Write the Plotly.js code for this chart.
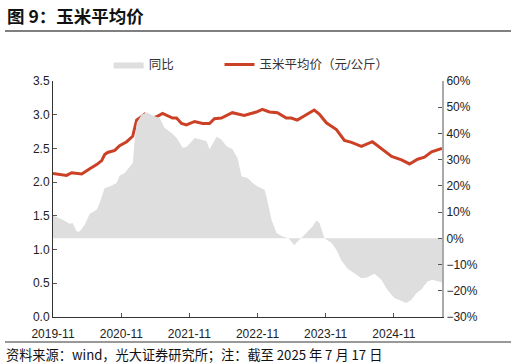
<!DOCTYPE html>
<html><head><meta charset="utf-8">
<script src="https://cdn.plot.ly/plotly-3.0.1.min.js"></script>
<style>html,body{margin:0;padding:0;background:#fff;}#chart{width:516px;height:364px;}</style>
</head><body><div id="chart"></div>
<script>
const priceDates = ['2019-11-01','2019-12-24','2020-01-13','2020-02-09','2020-04-03','2020-05-16','2020-06-22','2020-07-19','2020-08-04','2020-08-20','2020-09-27','2020-10-23','2020-11-30','2021-01-01','2021-01-22','2021-02-07','2021-03-06','2021-04-12','2021-05-09','2021-06-10','2021-08-03','2021-08-24','2021-09-20','2021-10-16','2021-11-29','2022-01-11','2022-02-17','2022-03-15','2022-04-22','2022-06-19','2022-08-22','2022-09-18','2022-10-26','2022-11-27','2023-01-04','2023-02-16','2023-04-04','2023-05-01','2023-06-02','2023-07-09','2023-09-01','2023-09-28','2023-11-05','2023-12-29','2024-02-10','2024-03-19','2024-05-11','2024-07-09','2024-09-01','2024-10-20','2024-12-12','2025-01-24','2025-03-08','2025-04-14','2025-05-22','2025-07-17'];
const priceValues = [2.13,2.10,2.10,2.14,2.12,2.20,2.26,2.32,2.41,2.44,2.47,2.54,2.60,2.68,2.92,2.95,3.01,2.95,2.97,3.02,2.95,2.95,2.87,2.85,2.90,2.87,2.87,2.94,2.95,3.03,2.99,3.01,3.04,3.08,3.04,3.03,2.95,2.95,2.92,2.98,3.07,3.01,2.88,2.78,2.62,2.59,2.53,2.60,2.48,2.38,2.33,2.27,2.34,2.37,2.45,2.50];
const yoyDates = ['2019-11-01','2019-12-23','2020-01-29','2020-02-14','2020-03-07','2020-03-23','2020-04-19','2020-05-16','2020-06-22','2020-07-08','2020-08-04','2020-08-31','2020-10-07','2020-10-23','2020-11-19','2020-12-16','2021-01-02','2021-01-12','2021-01-23','2021-02-18','2021-03-17','2021-04-18','2021-05-26','2021-06-21','2021-07-29','2021-08-25','2021-09-26','2021-10-17','2021-11-29','2022-01-06','2022-02-01','2022-02-17','2022-03-27','2022-04-23','2022-05-19','2022-06-20','2022-07-17','2022-08-08','2022-09-09','2022-10-06','2022-11-01','2022-12-09','2022-12-25','2023-01-15','2023-02-11','2023-03-15','2023-04-16','2023-05-18','2023-06-03','2023-06-30','2023-07-27','2023-08-23','2023-09-13','2023-09-29','2023-10-26','2023-12-03','2023-12-29','2024-01-25','2024-02-26','2024-04-04','2024-05-11','2024-06-12','2024-07-20','2024-08-26','2024-09-27','2024-11-04','2024-12-11','2025-01-07','2025-02-03','2025-03-02','2025-03-29','2025-04-30','2025-05-27','2025-07-03','2025-07-17'];
const yoyValues = [8.7,7.1,5.6,5.8,2.6,2.6,5.2,9.4,10.9,13.5,19.2,19.8,21.1,23.9,24.9,27.4,28.7,37.6,44.0,47.2,48.0,46.8,45.9,42.1,40.2,38.3,34.5,34.8,38.3,37.6,37.0,34.0,38.7,37.6,35.1,34.1,30.6,23.6,23.0,21.1,19.8,18.5,14.1,7.1,2.0,0.7,0.0,-2.6,-1.2,0.5,2.6,4.5,6.8,5.8,0.0,-1.8,-4.4,-8.5,-11.5,-13.3,-15.2,-14.8,-13.5,-15.8,-19.6,-22.8,-23.8,-24.7,-23.4,-20.9,-19.4,-16.5,-15.8,-16.5,-16.8].map(v => v / 100);
const xTickVals = ['2019-11-01','2020-11-01','2021-11-01','2022-11-01','2023-11-01','2024-11-01'];
const xTickText = ['2019-11','2020-11','2021-11','2022-11','2023-11','2024-11'];
const seriesNames = ['同比','玉米平均价（元/公斤）'];

const cjk = '"Liberation Sans", Arial, "Noto Sans CJK SC", sans-serif';

const traces = [
  {x: yoyDates, y: yoyValues, name: seriesNames[0], type: 'scatter', mode: 'lines', yaxis: 'y2',
   fill: 'tozeroy', fillcolor: '#dedede', line: {width: 0, color: '#dedede'}, legend: 'legend'},
  {x: priceDates, y: priceValues, name: seriesNames[1], type: 'scatter', mode: 'lines', yaxis: 'y',
   line: {width: 3, color: '#cc4125'}, legend: 'legend2'}
];

const legendBase = {orientation: 'h', xanchor: 'left', y: 1.005, yanchor: 'bottom',
           font: {size: 12.5, color: '#333'}, itemwidth: 30, bgcolor: 'rgba(0,0,0,0)'};

const layout = {
  width: 516, height: 364,
  margin: {l: 53, r: 74, t: 81, b: 47},
  paper_bgcolor: '#fff', plot_bgcolor: '#fff',
  font: {family: cjk, size: 12, color: '#222'},
  showlegend: true,
  legend: Object.assign({}, legendBase, {x: 0.143}),
  legend2: Object.assign({}, legendBase, {x: 0.428}),
  xaxis: {type: 'date', range: ['2019-11-01','2025-07-17'], tickvals: xTickVals, ticktext: xTickText,
          showgrid: false, zeroline: false, showline: true, linecolor: '#333', linewidth: 1,
          ticks: 'inside', ticklen: 4, tickcolor: '#555', tickfont: {size: 12, color: '#222'},
          ticklabelstandoff: 6},
  yaxis: {range: [0, 3.5], dtick: 0.5, tickformat: '.1f', showgrid: false, zeroline: false,
          showline: true, linecolor: '#333', linewidth: 1, ticks: 'inside', ticklen: 4, tickcolor: '#555',
          tickfont: {size: 12, color: '#222'}},
  yaxis2: {overlaying: 'y', side: 'right', range: [-0.3, 0.6], dtick: 0.1, tickformat: '.0%',
           showgrid: false, zeroline: false, showline: true, linecolor: '#aaa', linewidth: 2,
           ticks: 'inside', ticklen: 4, tickcolor: '#555', tickfont: {size: 12, color: '#222'}},
  annotations: [
    {xref: 'paper', yref: 'paper', x: -0.125, y: 1.0, xanchor: 'left', yanchor: 'middle',
     text: '<b>图 9：玉米平均价</b>', showarrow: false,
     font: {family: '"Noto Sans CJK SC", sans-serif', size: 17.5, color: '#111'}},
    {xref: 'paper', yref: 'paper', x: -0.123, y: 0, xanchor: 'left', yanchor: 'top',
     text: '资料来源：wind，光大证券研究所；注：截至 2025 年 7 月 17 日', showarrow: false,
     font: {family: '"Noto Sans CJK SC", sans-serif', size: 13.2, color: '#111'}}
  ],
  shapes: []
};

Plotly.newPlot('chart', traces, layout, {staticPlot: true}).then(function(gd){
  const pw = 516 - 53 - 74, ph = 364 - 81 - 47;
  const px = x => (x - 53) / pw, py = y => (364 - 47 - y) / ph;
  Plotly.relayout(gd, {
    'annotations[0].x': px(5), 'annotations[0].y': py(15),
    'annotations[1].x': px(4), 'annotations[1].y': py(343),
    shapes: [
      {type: 'line', xref: 'paper', yref: 'paper', x0: px(5), x1: px(511), y0: py(31), y1: py(31), line: {color: '#555', width: 1.5}},
      {type: 'line', xref: 'paper', yref: 'paper', x0: px(5), x1: px(511), y0: py(342), y1: py(342), line: {color: '#333', width: 1}}
    ]
  });
});
</script>
</body></html>
